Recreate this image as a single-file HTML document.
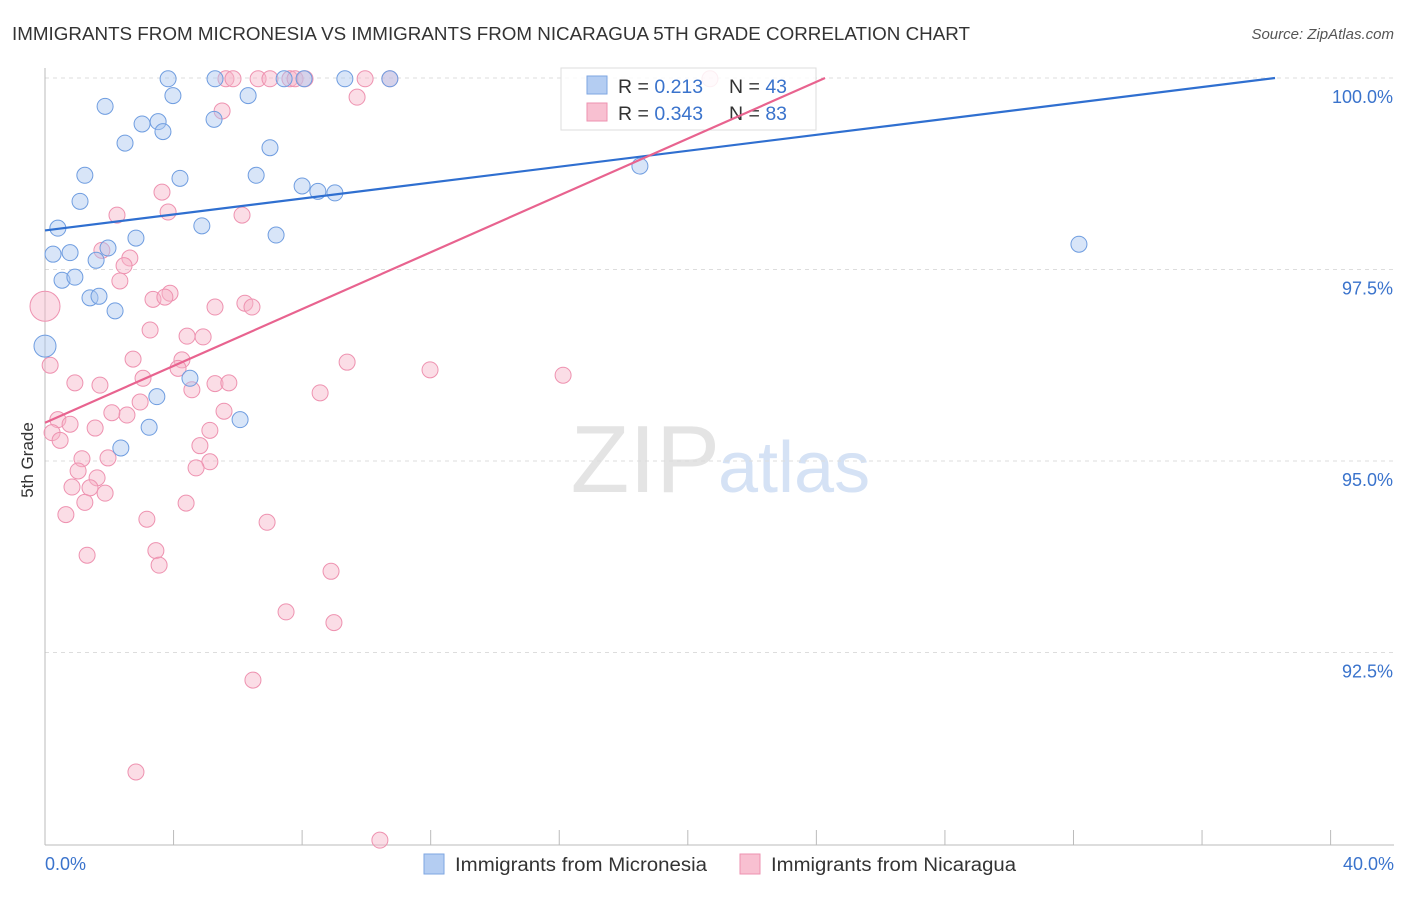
<!DOCTYPE html>
<html><head><meta charset="utf-8"><style>
body{margin:0;background:#fff;font-family:"Liberation Sans",sans-serif;}
svg text{font-family:"Liberation Sans",sans-serif;}
</style></head><body>
<svg id="chart" width="1406" height="892">
<text x="12" y="40" font-size="18.5" fill="#333" textLength="958" lengthAdjust="spacingAndGlyphs">IMMIGRANTS FROM MICRONESIA VS IMMIGRANTS FROM NICARAGUA 5TH GRADE CORRELATION CHART</text>
<text x="1394" y="39" font-size="15" fill="#555" font-style="italic" text-anchor="end">Source: ZipAtlas.com</text>
<text x="33" y="460" font-size="17" fill="#333" text-anchor="middle" transform="rotate(-90 33 460)">5th Grade</text>
<text x="720" y="492" font-size="96" fill="#e4e4e4" text-anchor="end" font-family="Liberation Serif">ZIP</text>
<text x="718" y="492" font-size="72" fill="#d5e2f5">atlas</text>
<g id="grid"></g><g id="axes"></g><g id="pts"></g>
<g>
<rect x="561" y="68" width="255" height="62" fill="#fff" fill-opacity="0.85" stroke="#ddd"/>
<rect x="587" y="76" width="20" height="18" fill="#b4cdf2" stroke="#7ea6e2"/>
<rect x="587" y="103" width="20" height="18" fill="#f8c0d1" stroke="#ee92b0"/>
<text x="618" y="93" font-size="19.5" fill="#333">R = <tspan fill="#3a73cc"> 0.213</tspan><tspan x="729">N = </tspan><tspan fill="#3a73cc">43</tspan></text>
<text x="618" y="120" font-size="19.5" fill="#333">R = <tspan fill="#3a73cc">0.343</tspan><tspan x="729">N = </tspan><tspan fill="#3a73cc">83</tspan></text>
</g>
<g id="lines"></g>
<g>
<rect x="424" y="854" width="20" height="20" fill="#b4cdf2" stroke="#7ea6e2"/>
<text x="455" y="871" font-size="19" fill="#333" textLength="252" lengthAdjust="spacingAndGlyphs">Immigrants from Micronesia</text>
<rect x="740" y="854" width="20" height="20" fill="#f8c0d1" stroke="#ee92b0"/>
<text x="771" y="871" font-size="19" fill="#333" textLength="245" lengthAdjust="spacingAndGlyphs">Immigrants from Nicaragua</text>
</g>
</svg>
<script>
const blueX=[3.83,5.29,7.44,8.06,9.33,10.73,3.98,6.32,1.87,3.02,3.52,3.67,5.26,2.49,7.0,1.24,4.2,6.57,8.0,8.49,9.02,1.09,0.40,4.88,2.83,7.19,0.25,0.78,1.96,1.59,0.53,0.93,1.40,1.68,2.18,0,4.51,3.48,3.24,2.36,6.07,18.51,32.17];
const blueY=[99.99,99.99,99.99,99.99,99.99,99.99,99.77,99.77,99.63,99.40,99.43,99.30,99.46,99.15,99.09,98.73,98.69,98.73,98.59,98.52,98.50,98.39,98.04,98.07,97.91,97.95,97.70,97.72,97.78,97.62,97.36,97.40,97.13,97.15,96.96,96.50,96.08,95.84,95.44,95.17,95.54,98.85,97.83];
const pinkX=[5.63,5.85,6.63,7.00,7.62,7.78,8.09,9.96,10.73,20.69,9.71,5.51,3.64,3.83,2.24,6.13,1.77,2.64,2.46,2.33,3.36,3.89,3.73,5.29,6.22,6.44,3.27,4.42,4.92,2.74,4.26,4.14,9.40,11.98,16.12,0.93,1.71,3.05,4.57,5.29,5.72,8.56,2.96,2.55,2.08,5.57,0.40,0.78,1.56,5.13,0.22,0.47,4.82,1.15,1.96,5.13,4.70,1.03,1.62,0.84,1.40,1.87,1.24,4.39,0.65,3.17,6.91,1.31,3.45,3.55,8.90,7.50,8.99,6.47,2.83,10.42,0.16,0];
const pinkY=[99.99,99.99,99.99,99.99,99.99,99.99,99.99,99.99,99.99,99.99,99.75,99.57,98.51,98.25,98.21,98.21,97.75,97.65,97.55,97.35,97.11,97.19,97.14,97.01,97.06,97.01,96.71,96.63,96.62,96.33,96.32,96.21,96.29,96.19,96.12,96.02,95.99,96.08,95.93,96.01,96.02,95.89,95.77,95.60,95.63,95.65,95.54,95.48,95.43,95.40,95.37,95.27,95.20,95.03,95.04,94.99,94.91,94.87,94.78,94.66,94.65,94.58,94.46,94.45,94.30,94.24,94.20,93.77,93.83,93.64,93.56,93.03,92.89,92.14,90.94,90.05,96.25,97.02];
const blueLineX=[0,38.27], blueLineY=[98.01,100];
const pinkLineX=[0,24.27], pinkLineY=[95.50,100];
const yTicks=[100,97.5,95,92.5], yTickLabels=["100.0%","97.5%","95.0%","92.5%"];
const xTicks=[0,4,8,12,16,20,24,28,32,36,40];
const X0=45,XS=32.14,Y0=78,YS=76.6;
const sx=v=>X0+v*XS, sy=v=>Y0+(100-v)*YS;
const NS="http://www.w3.org/2000/svg";
function mk(t,a,p){const e=document.createElementNS(NS,t);for(const k in a)e.setAttribute(k,a[k]);p.appendChild(e);return e;}
const grid=document.getElementById('grid'),axes=document.getElementById('axes'),pts=document.getElementById('pts'),lines=document.getElementById('lines');
yTicks.forEach((t,i)=>{
 const l=mk('line',{x1:45,x2:1394,y1:sy(t),y2:sy(t),stroke:'#ddd','stroke-dasharray':'4,4'},grid);
 
 
 const tx=mk('text',{x:1393,y:sy(t)+25,'font-size':18,fill:'#3a73cc','text-anchor':'end'},axes);
 tx.textContent=yTickLabels[i];
 
 
});
const ax=mk('line',{x1:45,x2:45,y1:68,y2:845,stroke:'#bbb'},axes);


const bx=mk('line',{x1:45,x2:1394,y1:845,y2:845,stroke:'#bbb'},axes);


xTicks.forEach(t=>{
 const l=mk('line',{x1:sx(t),x2:sx(t),y1:830,y2:845,stroke:'#bbb'},axes);
 
 
});
[[0,'0.0%','start',45],[40,'40.0%','end',1394]].forEach(a=>{
 const tx=mk('text',{x:a[3],y:870,'font-size':18,fill:'#3a73cc','text-anchor':a[2]},axes);
 tx.textContent=a[1];
 
 
});
function dots(xs,ys,fill,stroke,name){
 xs.forEach((x,i)=>{
  const big=(x===0);
  const c=mk('circle',{cx:sx(x),cy:sy(ys[i]),r:big?(name==='point-nicaragua'?15:11):8,fill:fill,'fill-opacity':0.45,stroke:stroke,'stroke-width':1},pts);
  
  
 });
}
dots(pinkX,pinkY,'#f6b3c8','#ee92b0','point-nicaragua');
dots(blueX,blueY,'#a9c6f0','#6f9de0','point-micronesia');
const bl=mk('line',{x1:sx(blueLineX[0]),y1:sy(blueLineY[0]),x2:sx(blueLineX[1]),y2:sy(blueLineY[1]),stroke:'#2f6fd0','stroke-width':2.2},lines);


const pl=mk('line',{x1:sx(pinkLineX[0]),y1:sy(pinkLineY[0]),x2:sx(pinkLineX[1]),y2:sy(pinkLineY[1]),stroke:'#e8638f','stroke-width':2.2},lines);


</script>
</body></html>
